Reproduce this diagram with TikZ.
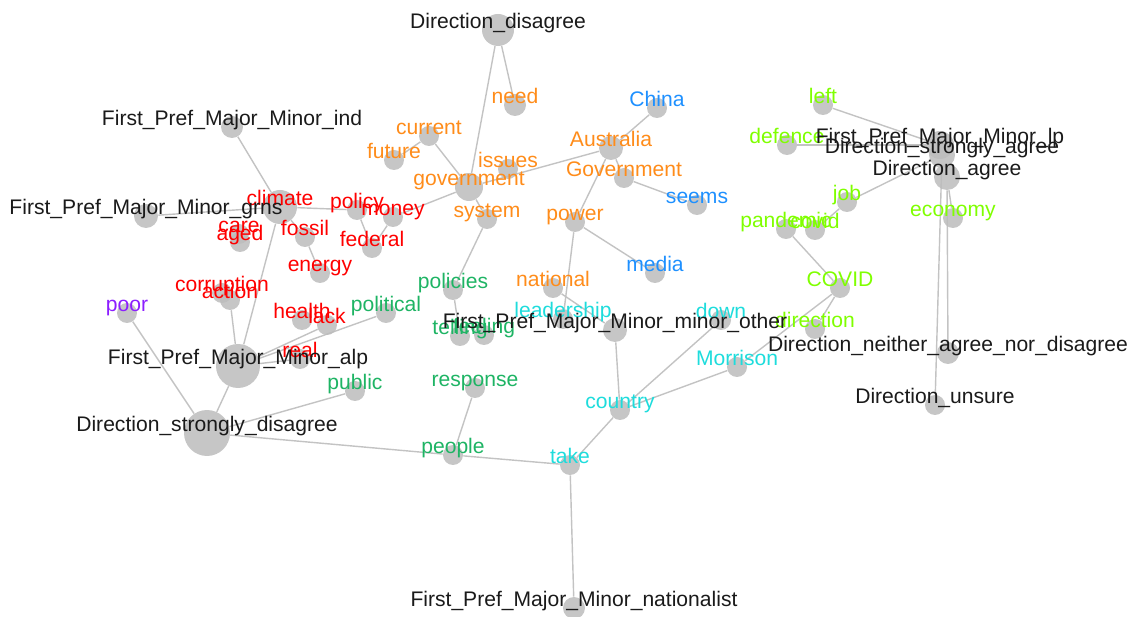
\documentclass[tikz,border=0pt]{standalone}
\usepackage{fontspec}
\setmainfont{Liberation Sans}
\usetikzlibrary{backgrounds}
\definecolor{Vertex}{RGB}{188,188,188}
\definecolor{Edge}{RGB}{195,195,195}
\definecolor{Outcome}{RGB}{26,26,26}
\definecolor{TopicRed}{RGB}{255,0,0}
\definecolor{TopicOrange}{RGB}{255,140,26}
\definecolor{TopicBlue}{RGB}{30,144,255}
\definecolor{TopicGreen}{RGB}{30,180,100}
\definecolor{TopicCyan}{RGB}{30,220,220}
\definecolor{TopicLime}{RGB}{127,255,0}
\definecolor{TopicPurple}{RGB}{140,30,255}

\begin{document}
\begin{tikzpicture}[x=0.02cm, y=-0.02cm]
			\tikzstyle{vertex}=[circle, fill=Vertex, fill opacity=0.85, draw=none, minimum size=0.4cm, inner sep=0pt]
			\tikzstyle{word}=[anchor=base, yshift=0.02cm, inner sep=0pt, font=\fontsize{12}{14}\selectfont]
			\tikzstyle{edge}=[draw=Edge, line width=0.8pt]
			\useasboundingbox (0,0) rectangle (1136,617);
			\node [vertex, minimum size=0.64cm] (dDisagree) at (498,30) {};
			\node [vertex, minimum size=0.44cm] (prefInd) at (232,127) {};
			\node [vertex, minimum size=0.48cm] (prefGrns) at (146,216) {};
			\node [vertex, minimum size=0.56cm] (prefLp) at (940,145) {};
			\node [vertex, minimum size=0.52cm] (dStrongAgree) at (942,155) {};
			\node [vertex, minimum size=0.52cm] (dAgree) at (947,177) {};
			\node [vertex, minimum size=0.48cm] (prefOther) at (615,330) {};
			\node [vertex, minimum size=0.44cm] (dNeither) at (948,353) {};
			\node [vertex] (dUnsure) at (935,405) {};
			\node [vertex, minimum size=0.88cm] (prefAlp) at (238,366) {};
			\node [vertex, minimum size=0.92cm] (dStrongDisagree) at (207,433) {};
			\node [vertex, minimum size=0.44cm] (prefNat) at (574,608) {};
			\node [vertex, minimum size=0.44cm] (need) at (515,105) {};
			\node [vertex] (current) at (429,136) {};
			\node [vertex] (future) at (394,160) {};
			\node [vertex] (issues) at (508,169) {};
			\node [vertex, minimum size=0.56cm] (government) at (469,187) {};
			\node [vertex] (system) at (487,219) {};
			\node [vertex, minimum size=0.48cm] (australia) at (611,148) {};
			\node [vertex] (govt) at (624,178) {};
			\node [vertex] (power) at (575,222) {};
			\node [vertex] (national) at (553,288) {};
			\node [vertex] (china) at (657,108) {};
			\node [vertex] (seems) at (697,205) {};
			\node [vertex] (media) at (655,273) {};
			\node [vertex, minimum size=0.68cm] (climate) at (280,207) {};
			\node [vertex] (policy) at (357,210) {};
			\node [vertex] (money) at (393,217) {};
			\node [vertex] (fossil) at (305,237) {};
			\node [vertex] (federal) at (372,248) {};
			\node [vertex] (energy) at (320,273) {};
			\node [vertex] (care) at (239,234) {};
			\node [vertex] (aged) at (240,242) {};
			\node [vertex] (corruption) at (222,293) {};
			\node [vertex] (action) at (230,300) {};
			\node [vertex] (health) at (302,320) {};
			\node [vertex] (lack) at (327,325) {};
			\node [vertex] (real) at (300,359) {};
			\node [vertex] (policies) at (453,290) {};
			\node [vertex] (political) at (386,313) {};
			\node [vertex] (public) at (355,391) {};
			\node [vertex] (response) at (475,388) {};
			\node [vertex] (people) at (453,455) {};
			\node [vertex] (telling) at (460,336) {};
			\node [vertex] (feeling) at (484,335) {};
			\node [vertex] (leadership) at (563,319) {};
			\node [vertex] (down) at (721,320) {};
			\node [vertex] (morrison) at (737,367) {};
			\node [vertex] (country) at (620,410) {};
			\node [vertex] (take) at (570,465) {};
			\node [vertex] (left) at (823,105) {};
			\node [vertex] (defence) at (787,145) {};
			\node [vertex] (job) at (847,202) {};
			\node [vertex] (pandemic) at (786,229) {};
			\node [vertex] (covid) at (815,230) {};
			\node [vertex] (economy) at (953,218) {};
			\node [vertex] (covidCaps) at (840,288) {};
			\node [vertex] (direction) at (815,329) {};
			\node [vertex] (poor) at (127,313) {};
			\node [word, TopicOrange] (need-t) at (need) {need};
			\node [word, TopicOrange] (current-t) at (current) {current};
			\node [word, TopicOrange] (future-t) at (future) {future};
			\node [word, TopicOrange] (issues-t) at (issues) {issues};
			\node [word, TopicOrange] (government-t) at (government) {government};
			\node [word, TopicOrange] (system-t) at (system) {system};
			\node [word, TopicOrange] (australia-t) at (australia) {Australia};
			\node [word, TopicOrange] (govt-t) at (govt) {Government};
			\node [word, TopicOrange] (power-t) at (power) {power};
			\node [word, TopicOrange] (national-t) at (national) {national};
			\node [word, TopicBlue] (china-t) at (china) {China};
			\node [word, TopicBlue] (seems-t) at (seems) {seems};
			\node [word, TopicBlue] (media-t) at (media) {media};
			\node [word, TopicRed] (climate-t) at (climate) {climate};
			\node [word, TopicRed] (policy-t) at (policy) {policy};
			\node [word, TopicRed] (money-t) at (money) {money};
			\node [word, TopicRed] (fossil-t) at (fossil) {fossil};
			\node [word, TopicRed] (federal-t) at (federal) {federal};
			\node [word, TopicRed] (energy-t) at (energy) {energy};
			\node [word, TopicRed] (care-t) at (care) {care};
			\node [word, TopicRed] (aged-t) at (aged) {aged};
			\node [word, TopicRed] (corruption-t) at (corruption) {corruption};
			\node [word, TopicRed] (action-t) at (action) {action};
			\node [word, TopicRed] (health-t) at (health) {health};
			\node [word, TopicRed] (lack-t) at (lack) {lack};
			\node [word, TopicRed] (real-t) at (real) {real};
			\node [word, TopicGreen] (policies-t) at (policies) {policies};
			\node [word, TopicGreen] (political-t) at (political) {political};
			\node [word, TopicGreen] (public-t) at (public) {public};
			\node [word, TopicGreen] (response-t) at (response) {response};
			\node [word, TopicGreen] (people-t) at (people) {people};
			\node [word, TopicGreen] (telling-t) at (telling) {telling};
			\node [word, TopicGreen] (feeling-t) at (feeling) {feeling};
			\node [word, TopicCyan] (leadership-t) at (leadership) {leadership};
			\node [word, TopicCyan] (down-t) at (down) {down};
			\node [word, TopicCyan] (morrison-t) at (morrison) {Morrison};
			\node [word, TopicCyan] (country-t) at (country) {country};
			\node [word, TopicCyan] (take-t) at (take) {take};
			\node [word, TopicLime] (left-t) at (left) {left};
			\node [word, TopicLime] (defence-t) at (defence) {defence};
			\node [word, TopicLime] (job-t) at (job) {job};
			\node [word, TopicLime] (pandemic-t) at (pandemic) {pandemic};
			\node [word, TopicLime] (covid-t) at (covid) {covid};
			\node [word, TopicLime] (economy-t) at (economy) {economy};
			\node [word, TopicLime] (covidCaps-t) at (covidCaps) {COVID};
			\node [word, TopicLime] (direction-t) at (direction) {direction};
			\node [word, TopicPurple] (poor-t) at (poor) {poor};
			\node [word, Outcome] (dDisagree-t) at (dDisagree) {Direction\_disagree};
			\node [word, Outcome] (prefInd-t) at (prefInd) {First\_Pref\_Major\_Minor\_ind};
			\node [word, Outcome] (prefGrns-t) at (prefGrns) {First\_Pref\_Major\_Minor\_grns};
			\node [word, Outcome] (prefLp-t) at (prefLp) {First\_Pref\_Major\_Minor\_lp};
			\node [word, Outcome] (dStrongAgree-t) at (dStrongAgree) {Direction\_strongly\_agree};
			\node [word, Outcome] (dAgree-t) at (dAgree) {Direction\_agree};
			\node [word, Outcome] (prefOther-t) at (prefOther) {First\_Pref\_Major\_Minor\_minor\_other};
			\node [word, Outcome] (dNeither-t) at (dNeither) {Direction\_neither\_agree\_nor\_disagree};
			\node [word, Outcome] (dUnsure-t) at (dUnsure) {Direction\_unsure};
			\node [word, Outcome] (prefAlp-t) at (prefAlp) {First\_Pref\_Major\_Minor\_alp};
			\node [word, Outcome] (dStrongDisagree-t) at (dStrongDisagree) {Direction\_strongly\_disagree};
			\node [word, Outcome] (prefNat-t) at (prefNat) {First\_Pref\_Major\_Minor\_nationalist};
			\begin{scope}[on background layer]
				\draw [edge] (dDisagree) -- (need);
				\draw [edge] (dDisagree) -- (government);
				\draw [edge] (prefInd) -- (climate);
				\draw [edge] (prefGrns) -- (climate);
				\draw [edge] (climate) -- (policy);
				\draw [edge] (policy) -- (federal);
				\draw [edge] (federal) -- (money);
				\draw [edge] (money) -- (government);
				\draw [edge] (government) -- (australia);
				\draw [edge] (future) -- (current);
				\draw [edge] (current) -- (government);
				\draw [edge] (government) -- (system);
				\draw [edge] (system) -- (policies);
				\draw [edge] (policies) -- (telling);
				\draw [edge] (australia) -- (china);
				\draw [edge] (australia) -- (govt);
				\draw [edge] (govt) -- (seems);
				\draw [edge] (australia) -- (power);
				\draw [edge] (power) -- (media);
				\draw [edge] (power) -- (leadership);
				\draw [edge] (national) -- (prefOther);
				\draw [edge] (prefOther) -- (country);
				\draw [edge] (climate) -- (fossil);
				\draw [edge] (fossil) -- (energy);
				\draw [edge] (climate) -- (prefAlp);
				\draw [edge] (action) -- (prefAlp);
				\draw [edge] (prefAlp) -- (lack);
				\draw [edge] (prefAlp) -- (political);
				\draw [edge] (prefAlp) -- (real);
				\draw [edge] (prefAlp) -- (dStrongDisagree);
				\draw [edge] (poor) -- (dStrongDisagree);
				\draw [edge] (dStrongDisagree) -- (public);
				\draw [edge] (dStrongDisagree) -- (people);
				\draw [edge] (people) -- (response);
				\draw [edge] (people) -- (take);
				\draw [edge] (take) -- (country);
				\draw [edge] (take) -- (prefNat);
				\draw [edge] (country) -- (down);
				\draw [edge] (country) -- (morrison);
				\draw [edge] (morrison) -- (covidCaps);
				\draw [edge] (covidCaps) -- (direction);
				\draw [edge] (covidCaps) -- (pandemic);
				\draw [edge] (covid) -- (job);
				\draw [edge] (job) -- (dStrongAgree);
				\draw [edge] (defence) -- (prefLp);
				\draw [edge] (left) -- (prefLp);
				\draw [edge] (economy) -- (dAgree);
				\draw [edge] (dStrongAgree) -- (dUnsure);
				\draw [edge] (dAgree) -- (dNeither);
			\end{scope}
		\end{tikzpicture}
\end{document}
